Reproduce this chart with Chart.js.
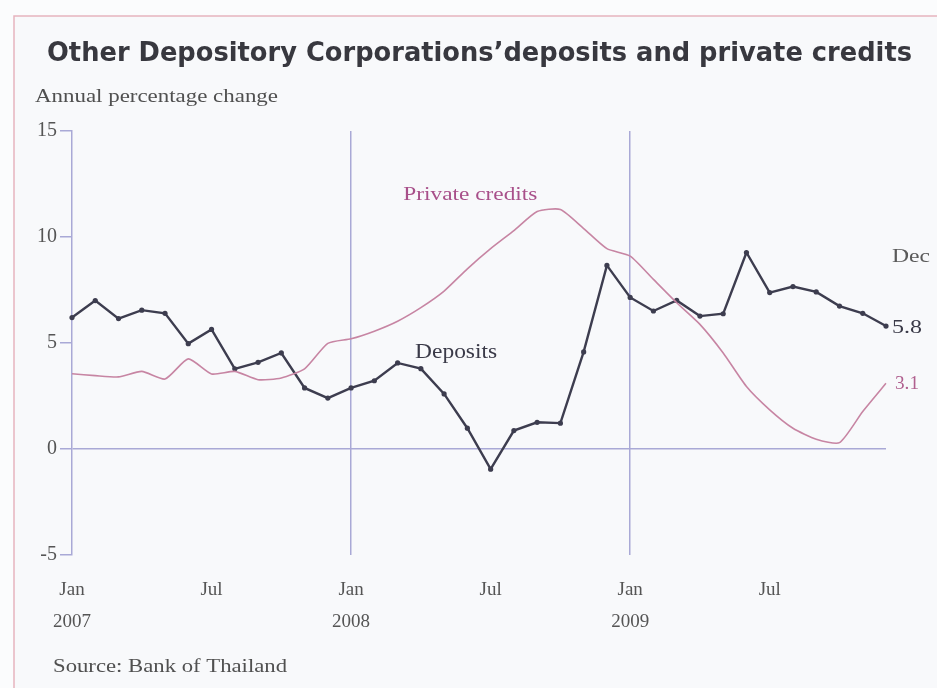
<!DOCTYPE html>
<html>
<head>
<meta charset="utf-8">
<script src="https://cdn.jsdelivr.net/npm/chart.js@4"></script>
<style>
  html, body { margin: 0; padding: 0; background: #fbfcfd; }
  #wrap { width: 937px; height: 688px; }
</style>
</head>
<body>
<div id="wrap"><canvas id="odc_chart" width="937" height="688"></canvas></div>
<script>
const categories = [
  "Jan 2007", "Feb 2007", "Mar 2007", "Apr 2007", "May 2007", "Jun 2007",
  "Jul 2007", "Aug 2007", "Sep 2007", "Oct 2007", "Nov 2007", "Dec 2007",
  "Jan 2008", "Feb 2008", "Mar 2008", "Apr 2008", "May 2008", "Jun 2008",
  "Jul 2008", "Aug 2008", "Sep 2008", "Oct 2008", "Nov 2008", "Dec 2008",
  "Jan 2009", "Feb 2009", "Mar 2009", "Apr 2009", "May 2009", "Jun 2009",
  "Jul 2009", "Aug 2009", "Sep 2009", "Oct 2009", "Nov 2009", "Dec 2009",
];
const deposits = [
  6.2, 7.0, 6.15, 6.55, 6.4, 4.97, 5.64, 3.78, 4.09, 4.53, 2.88, 2.4,
  2.88, 3.22, 4.06, 3.79, 2.6, 0.98, -0.95, 0.87, 1.26, 1.22, 4.58, 8.66,
  7.15, 6.51, 7.01, 6.27, 6.38, 9.27, 7.38, 7.66, 7.41, 6.74, 6.4, 5.8,
];
const privateCredits = [
  3.55, 3.46, 3.4, 3.66, 3.3, 4.25, 3.54, 3.66, 3.27, 3.35, 3.78, 4.98,
  5.2, 5.56, 6.03, 6.67, 7.45, 8.5, 9.45, 10.3, 11.2, 11.3, 10.4, 9.45,
  9.1, 8.0, 6.9, 5.88, 4.53, 2.95, 1.85, 0.98, 0.46, 0.3, 1.77, 3.1,
];
// one label every six months
const tickLabels = [["Jan", "2007"], "Jul", ["Jan", "2008"], "Jul", ["Jan", "2009"], "Jul"];

const lavender = "#a9a9d6";
const serif = "'Liberation Serif', 'DejaVu Serif', serif";

// draw text squeezed/stretched to a given width
function fitText(ctx, text, x, y, width, font, color, align) {
  ctx.save();
  ctx.font = font;
  ctx.fillStyle = color;
  ctx.textBaseline = "middle";
  ctx.textAlign = "left";
  const w = ctx.measureText(text).width;
  let left = x;
  if (align === "center") left = x - width / 2;
  ctx.translate(left, y);
  ctx.scale(width / w, 1);
  ctx.fillText(text, 0, 0);
  ctx.restore();
}

const frame = {
  id: "frame",
  beforeDraw(chart) {
    const ctx = chart.ctx;
    ctx.save();
    ctx.fillStyle = "#f8f9fb";
    ctx.fillRect(14, 16, chart.width - 14, chart.height - 16);
    ctx.strokeStyle = "#e6b4bf";
    ctx.lineWidth = 1.5;
    ctx.beginPath();
    ctx.moveTo(chart.width, 16);
    ctx.lineTo(14, 16);
    ctx.lineTo(14, chart.height);
    ctx.stroke();
    ctx.restore();
  },
  afterDraw(chart) {
    const ctx = chart.ctx;
    const xs = chart.scales.x;
    const ys = chart.scales.y;
    const last = categories.length - 1;

    fitText(ctx, "Other Depository Corporations\u2019deposits and private credits",
      47, 54, 865, "bold 27px 'DejaVu Sans', Arial, sans-serif", "#38383f");
    fitText(ctx, "Annual percentage change", 35, 97, 243, "19px " + serif, "#505050");
    fitText(ctx, "Source: Bank of Thailand", 53, 667, 234, "19px " + serif, "#505050");

    fitText(ctx, "Private credits", xs.getPixelForValue(17) + 3, ys.getPixelForValue(12.0),
      134, "19px " + serif, "#a8508a", "center");
    fitText(ctx, "Deposits", xs.getPixelForValue(16) + 12, ys.getPixelForValue(4.55),
      82, "20px " + serif, "#3a3a48", "center");

    const xr = xs.getPixelForValue(last);
    fitText(ctx, "Dec", xr + 6, ys.getPixelForValue(9.05), 38, "19px " + serif, "#5a5a5a");
    fitText(ctx, deposits[last].toFixed(1), xr + 6, ys.getPixelForValue(deposits[last]) + 2,
      30, "19px " + serif, "#3a3a48");
    fitText(ctx, privateCredits[last].toFixed(1), xr + 9, ys.getPixelForValue(privateCredits[last]) + 1,
      24, "19px " + serif, "#b0608f");
  },
};

const c1 = document.getElementById("odc_chart").getContext("2d");
new Chart(c1, {
  type: "line",
  data: {
    labels: categories,
    datasets: [
      {
        label: "Private credits",
        data: privateCredits,
        borderColor: "#c785a3",
        borderWidth: 1.6,
        pointRadius: 0,
        tension: 0.2,
      },
      {
        label: "Deposits",
        data: deposits,
        borderColor: "#3d3d4f",
        backgroundColor: "#3d3d4f",
        borderWidth: 2.4,
        pointRadius: 2.6,
        pointBorderWidth: 0,
        tension: 0,
      },
    ],
  },
  options: {
    responsive: false,
    animation: false,
    devicePixelRatio: 1,
    layout: {
      padding: { top: 131, right: 51, bottom: 0, left: 0 },
    },
    plugins: {
      legend: { display: false },
      tooltip: { enabled: false },
    },
    scales: {
      x: {
        border: { display: false },
        grid: {
          color: (c) => (c.index === 12 || c.index === 24 ? lavender : "transparent"),
          lineWidth: 1.5,
          drawTicks: false,
        },
        ticks: {
          autoSkip: false,
          maxRotation: 0,
          padding: 19,
          color: "#555555",
          font: { family: serif, size: 19, lineHeight: "32px" },
          callback: (v, i) => (i % 6 === 0 ? tickLabels[i / 6] : ""),
        },
        afterFit: (s) => {
          s.height = 133;
        },
      },
      y: {
        min: -5,
        max: 15,
        border: { color: lavender, width: 1.5 },
        grid: {
          color: (c) => (c.tick && c.tick.value === 0 ? lavender : "transparent"),
          lineWidth: 1.5,
          tickLength: 12,
          tickColor: lavender,
        },
        ticks: {
          stepSize: 5,
          padding: 3,
          color: "#555555",
          font: { family: serif, size: 20 },
        },
        afterFit: (s) => {
          s.width = 72;
        },
      },
    },
  },
  plugins: [frame],
});
</script>
</body>
</html>
